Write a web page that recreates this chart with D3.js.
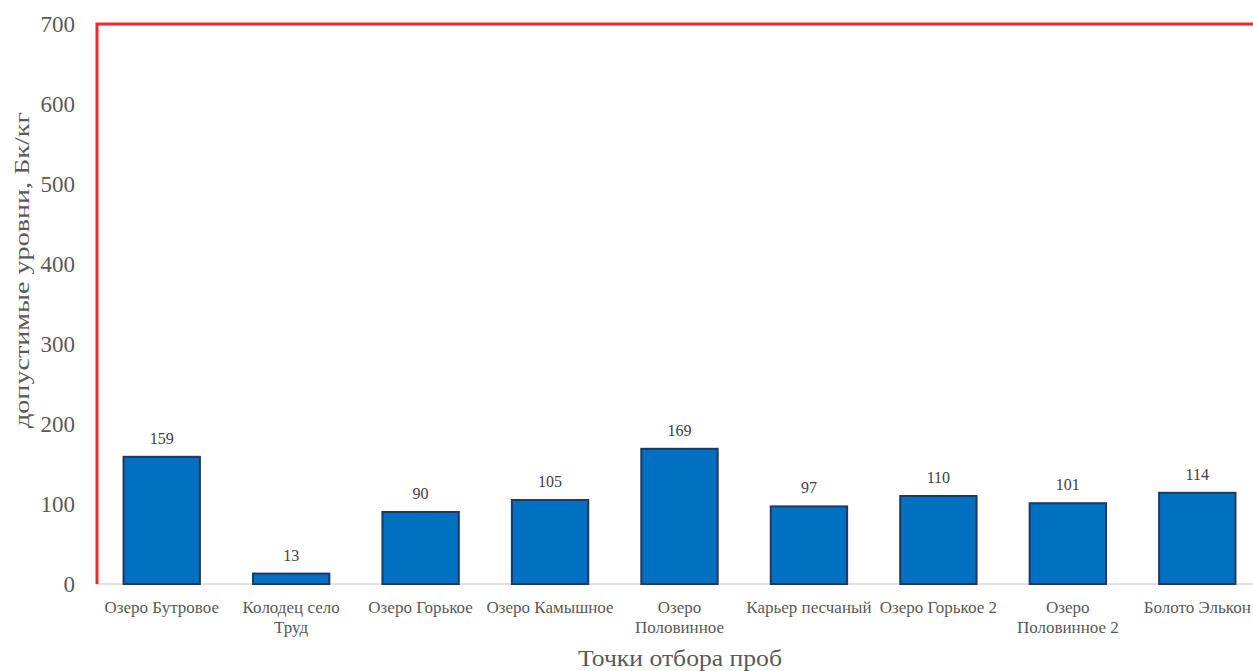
<!DOCTYPE html>
<html>
<head>
<meta charset="utf-8">
<script src="https://cdn.jsdelivr.net/npm/d3@7"></script>
<style>
  body { margin: 0; background: #fff; }
  svg { display: block; }
  svg text { font-family: "Liberation Serif", "Times New Roman", serif; }
</style>
</head>
<body>
<svg width="1253" height="671"></svg>
<script>
// categories (line breaks as in the picture)
let categories = ["Озеро Бутровое", "Колодец село\nТруд", "Озеро Горькое", "Озеро Камышное",
    "Озеро\nПоловинное", "Карьер песчаный", "Озеро Горькое 2", "Озеро\nПоловинное 2", "Болото Элькон"];
let values = [159, 13, 90, 105, 169, 97, 110, 101, 114];
let yTicks = [0, 100, 200, 300, 400, 500, 600, 700];

var svg = d3.select("svg"),
    margin = {top: 24, left: 97},
    plotW = 1165,
    plotH = 560;

var g = svg.append("g").attr("transform", "translate(" + margin.left + "," + margin.top + ")");

var x = d3.scaleBand()
    .domain(categories)
    .range([0, plotW])
    .paddingInner(0.41)
    .paddingOuter(0.205);

var y = d3.scaleLinear()
    .domain([0, 700])
    .range([plotH, 0]);

// y tick labels
var yAxis = g.append("g")
    .call(d3.axisLeft(y).tickValues(yTicks).tickSize(0).tickPadding(22));
yAxis.select(".domain").remove();
yAxis.attr("font-family", null);
yAxis.selectAll("text")
    .attr("fill", "#595959")
    .style("font-size", "23px");

// baseline
g.append("line")
    .attr("x1", 0).attr("x2", 1253 - margin.left)
    .attr("y1", y(0)).attr("y2", y(0))
    .attr("stroke", "#d9d9d9").attr("stroke-width", 1.5);

// bars
g.selectAll("rect.bar")
    .data(values)
    .enter()
    .append("rect")
    .attr("class", "bar")
    .attr("x", (d, i) => x(categories[i]))
    .attr("y", d => y(d))
    .attr("width", x.bandwidth())
    .attr("height", d => y(0) - y(d))
    .attr("fill", "#0070C0")
    .attr("stroke", "#1F3864")
    .attr("stroke-width", 2);

// value labels
g.selectAll("text.val")
    .data(values)
    .enter()
    .append("text")
    .attr("class", "val")
    .attr("x", (d, i) => x(categories[i]) + x.bandwidth() / 2)
    .attr("y", d => y(d) - 13)
    .attr("text-anchor", "middle")
    .attr("fill", "#404040")
    .style("font-size", "16px")
    .text(d => d);

// category labels
var cats = g.selectAll("text.cat")
    .data(categories)
    .enter()
    .append("text")
    .attr("class", "cat")
    .attr("x", d => x(d) + x.bandwidth() / 2)
    .attr("y", plotH + 29)
    .attr("text-anchor", "middle")
    .attr("fill", "#595959")
    .style("font-size", "17px");
cats.each(function(d) {
    var t = d3.select(this);
    d.split("\n").forEach((line, k) => {
        t.append("tspan")
            .attr("x", x(d) + x.bandwidth() / 2)
            .attr("dy", k === 0 ? 0 : 20)
            .text(line);
    });
});

// red frame (left axis and top line)
g.append("path")
    .attr("d", "M0," + y(0) + "V" + y(700) + "H" + (1253 - margin.left + 2))
    .attr("fill", "none")
    .attr("stroke", "#f2262b")
    .attr("stroke-width", 3);

// axis titles
svg.append("text")
    .attr("x", 680).attr("y", 666)
    .attr("text-anchor", "middle")
    .attr("fill", "#595959")
    .attr("textLength", 204)
    .attr("lengthAdjust", "spacingAndGlyphs")
    .style("font-size", "23px")
    .text("Точки отбора проб");

svg.append("text")
    .attr("transform", "translate(29,270) rotate(-90)")
    .attr("text-anchor", "middle")
    .attr("fill", "#595959")
    .attr("textLength", 316)
    .attr("lengthAdjust", "spacingAndGlyphs")
    .style("font-size", "21px")
    .text("допустимые уровни, Бк/кг");
</script>
</body>
</html>
